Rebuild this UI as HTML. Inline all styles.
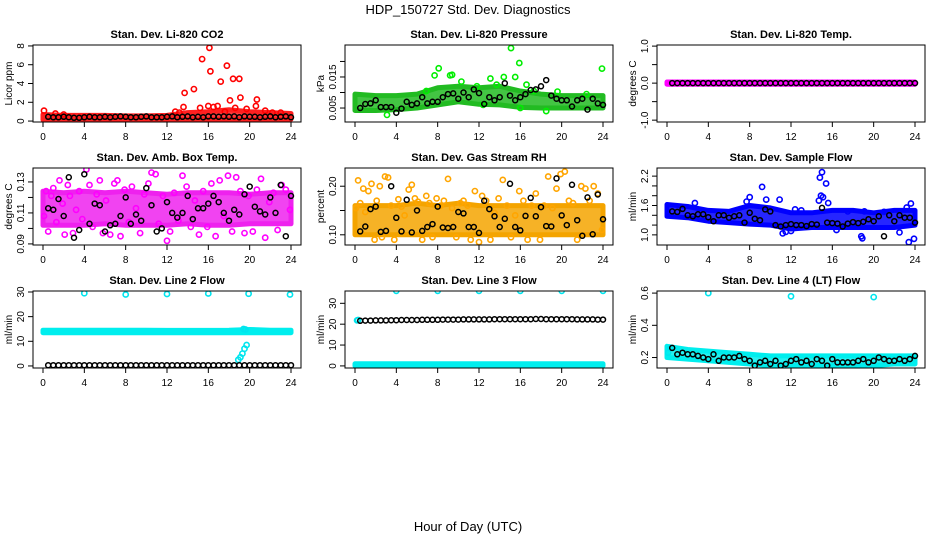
<!DOCTYPE html>
<html><head><meta charset="utf-8"><style>
body{margin:0;background:#fff;}
svg{display:block;font-family:"Liberation Sans",Arial,sans-serif;}
</style></head><body>
<svg id="chart" width="936" height="540" viewBox="0 0 936 540">
<text x="468" y="14" text-anchor="middle" font-size="13">HDP_150727  Std. Dev. Diagnostics</text>
<text x="468" y="531" text-anchor="middle" font-size="13">Hour of Day (UTC)</text>
</svg>
<script>
// ---------- data ----------
const xTicks=[0,4,8,12,16,20,24];
const bandHours=[0,2,4,6,8,10,12,14,16,18,20,22,24];
const scatterHours=[0.1,0.3,0.5,0.8,1.0,1.3,1.6,1.9,2.1,2.4,2.6,2.9,3.2,3.5,3.8,4.2,4.5,4.8,5.2,5.5,5.8,6.1,6.5,6.9,7.2,7.5,7.9,8.3,8.6,9.0,9.4,9.8,10.2,10.5,10.9,11.2,11.6,12.0,12.3,12.7,13.1,13.5,13.9,14.3,14.7,15.1,15.5,15.9,16.3,16.7,17.1,17.5,17.9,18.3,18.7,19.1,19.5,19.9,20.3,20.7,21.1,21.5,21.9,22.3,22.7,23.1,23.5,23.9];

// Panel 1 CO2
const co2BandLo=[0.15,0.15,0.15,0.15,0.15,0.15,0.15,0.2,0.2,0.2,0.2,0.2,0.2];
const co2BandHi=[0.7,0.6,0.6,0.6,0.55,0.55,0.6,0.9,1.0,1.2,1.0,0.9,0.8];
const co2X=[0.1,1.2,2.0,12.8,13.2,13.6,13.7,14.6,15.2,15.4,16.0,16.1,16.2,16.5,16.9,17.2,17.6,17.8,18.1,18.4,18.6,19.0,19.1,19.7,20.6,20.7,21.5,22.2,23.0];
const co2Y=[1.1,0.8,0.7,1.0,0.9,1.5,3.0,3.4,1.4,6.6,1.6,7.8,5.3,1.5,1.6,4.2,1.0,5.9,2.2,4.5,1.4,4.5,2.5,1.3,1.6,2.3,1.1,0.9,0.9];
const co2Black=[0.45,0.4,0.4,0.45,0.4,0.35,0.35,0.4,0.45,0.4,0.4,0.45,0.4,0.45,0.5,0.45,0.4,0.4,0.45,0.5,0.4,0.4,0.4,0.45,0.5,0.4,0.45,0.5,0.4,0.45,0.4,0.5,0.5,0.45,0.5,0.45,0.5,0.4,0.5,0.45,0.45,0.4,0.45,0.5,0.4,0.45,0.5,0.4];

// Panel 2 Pressure
const presBandLo=[0.0042,0.0042,0.0045,0.005,0.006,0.007,0.0062,0.006,0.0052,0.005,0.005,0.005,0.005];
const presBandHi=[0.0095,0.009,0.009,0.0095,0.0115,0.012,0.0115,0.012,0.0105,0.0095,0.009,0.009,0.009];
const presX=[15.1,15.9,23.9,8.1,7.7,9.2,9.4,14.4,15.5,13.1,3.1,12.4,16.0,18.5,10.3,11.8,6.9,13.7,16.6,17.3,19.6,22.4];
const presY=[0.0243,0.0195,0.0177,0.0178,0.0155,0.0155,0.0157,0.015,0.015,0.0145,0.0028,0.006,0.005,0.004,0.0135,0.012,0.0105,0.0125,0.0125,0.0105,0.0103,0.0095];
const presBlack=[0.0050,0.0063,0.0065,0.0075,0.0053,0.0053,0.0053,0.0035,0.0048,0.0070,0.0060,0.0065,0.0085,0.0065,0.0070,0.0070,0.0085,0.0095,0.0097,0.0080,0.0100,0.0085,0.0110,0.0098,0.0063,0.0085,0.0075,0.0085,0.0130,0.0090,0.0075,0.0085,0.0095,0.0108,0.0110,0.0120,0.0140,0.0090,0.0080,0.0075,0.0075,0.0055,0.0075,0.0080,0.0045,0.0080,0.0065,0.0060];

// Panel 3 Temp
const tempBandLo=[-0.03,-0.03,-0.03,-0.03,-0.03,-0.03,-0.03,-0.03,-0.03,-0.03,-0.03,-0.03,-0.03];
const tempBandHi=[0.03,0.03,0.03,0.03,0.03,0.03,0.03,0.03,0.03,0.03,0.03,0.03,0.03];
const tempBlack=[0,0,0,0,0,0,0,0,0,0,0,0,0,0,0,0,0,0,0,0,0,0,0,0,0,0,0,0,0,0,0,0,0,0,0,0,0,0,0,0,0,0,0,0,0,0,0,0];

// Panel 4 Amb box temp
const ambBandLo=[0.102,0.102,0.102,0.103,0.102,0.102,0.102,0.103,0.102,0.102,0.103,0.103,0.103];
const ambBandHi=[0.124,0.123,0.124,0.123,0.124,0.123,0.122,0.123,0.123,0.123,0.122,0.123,0.123];
const ambY=[0.108,0.124,0.098,0.121,0.126,0.104,0.131,0.116,0.096,0.128,0.121,0.097,0.112,0.124,0.106,0.138,0.128,0.101,0.122,0.131,0.097,0.118,0.096,0.129,0.131,0.095,0.125,0.104,0.127,0.113,0.097,0.122,0.129,0.136,0.135,0.103,0.121,0.092,0.098,0.123,0.105,0.134,0.127,0.101,0.118,0.096,0.124,0.101,0.129,0.095,0.131,0.108,0.134,0.098,0.133,0.124,0.097,0.121,0.098,0.125,0.132,0.094,0.117,0.123,0.099,0.128,0.125,0.112];
const ambBlack=[0.113,0.112,0.119,0.108,0.133,0.094,0.099,0.135,0.103,0.116,0.115,0.098,0.102,0.103,0.108,0.120,0.103,0.109,0.105,0.126,0.115,0.098,0.100,0.117,0.110,0.107,0.110,0.121,0.106,0.113,0.113,0.116,0.121,0.117,0.110,0.105,0.112,0.109,0.122,0.127,0.114,0.111,0.109,0.120,0.110,0.128,0.095,0.121];

// Panel 5 RH
const rhBandLo=[0.1,0.1,0.1,0.1,0.1,0.1,0.1,0.1,0.1,0.1,0.1,0.1,0.1];
const rhBandHi=[0.16,0.16,0.16,0.165,0.16,0.165,0.16,0.16,0.16,0.16,0.16,0.16,0.16];
const rhY=[0.155,0.212,0.165,0.195,0.147,0.19,0.205,0.09,0.17,0.2,0.095,0.22,0.218,0.16,0.09,0.173,0.158,0.14,0.193,0.203,0.175,0.168,0.09,0.18,0.165,0.095,0.175,0.16,0.17,0.215,0.155,0.095,0.165,0.17,0.16,0.09,0.19,0.085,0.18,0.17,0.09,0.145,0.175,0.213,0.16,0.095,0.14,0.19,0.17,0.09,0.16,0.185,0.09,0.16,0.22,0.155,0.195,0.225,0.23,0.17,0.165,0.09,0.2,0.195,0.17,0.2,0.185,0.11];
const rhBlack=[0.107,0.117,0.153,0.158,0.106,0.108,0.200,0.135,0.107,0.172,0.105,0.150,0.108,0.116,0.122,0.158,0.115,0.114,0.116,0.147,0.144,0.116,0.116,0.104,0.170,0.153,0.138,0.116,0.133,0.205,0.116,0.109,0.139,0.176,0.138,0.157,0.118,0.117,0.216,0.140,0.120,0.203,0.130,0.098,0.177,0.101,0.183,0.132];

// Panel 6 Sample flow
const flowBandLo=[1.38,1.35,1.28,1.25,1.22,1.2,1.12,1.15,1.15,1.15,1.15,1.15,1.2];
const flowBandHi=[1.62,1.58,1.5,1.48,1.6,1.55,1.45,1.45,1.5,1.5,1.45,1.5,1.5];
const flowX=[15.0,14.8,15.4,9.2,9.6,10.9,12.4,13.0,14.9,15.1,14.7,15.6,8.0,7.7,18.9,18.8,23.4,23.9,11.2,11.5,17.5,19.1,21.0,23.2,23.6,2.7,22.5,16.4,12.0];
const flowY=[2.28,2.17,2.05,1.98,1.72,1.72,1.52,1.5,1.8,1.77,1.7,1.65,1.77,1.68,0.93,0.97,0.85,0.92,1.03,1.06,1.48,1.48,1.47,1.56,1.64,1.65,1.05,1.1,1.08];
const flowBlack=[1.48,1.47,1.53,1.40,1.38,1.42,1.42,1.36,1.28,1.40,1.40,1.35,1.38,1.40,1.25,1.45,1.33,1.30,1.52,1.48,1.20,1.17,1.20,1.22,1.20,1.20,1.18,1.22,1.21,1.55,1.25,1.24,1.23,1.17,1.23,1.26,1.24,1.27,1.32,1.28,1.38,0.97,1.40,1.28,1.40,1.35,1.35,1.25];

// Panel 7 Line 2
const l2BandLo=[13.5,13.5,13.5,13.5,13.5,13.5,13.5,13.5,13.5,13.5,13.5,13.5,13.5];
const l2BandHi=[14.5,14.5,14.5,14.5,14.5,14.5,14.4,14.4,14.4,14.5,14.8,14.5,14.5];
const l2X=[4.0,8.0,12.0,16.0,19.9,23.9,18.9,19.1,19.3,19.5,19.7,19.4,19.6];
const l2Y=[29.5,29.0,29.2,29.4,29.3,29.0,2.5,3.5,5.0,7.0,8.5,15.0,14.8];
const l2Black=[0.3,0.3,0.3,0.3,0.3,0.3,0.3,0.3,0.3,0.3,0.3,0.3,0.3,0.3,0.3,0.3,0.3,0.3,0.3,0.3,0.3,0.3,0.3,0.3,0.3,0.3,0.3,0.3,0.3,0.3,0.3,0.3,0.3,0.3,0.3,0.3,0.3,0.3,0.3,0.3,0.3,0.3,0.3,0.3,0.3,0.3,0.3,0.3];

// Panel 8 Line 3
const l3BandLo=[0,0,0,0,0,0,0,0,0,0,0,0,0];
const l3BandHi=[1.0,1.0,1.0,1.0,1.0,1.0,1.0,1.0,1.0,1.0,1.0,1.0,1.0];
const l3X=[4.0,8.0,12.0,16.0,20.0,24.0,0.2,0.3];
const l3Y=[36,36,36,36,36,36,21.8,22.0];
const l3Black=[21.6,21.7,21.7,21.8,21.8,21.8,21.9,21.9,22.0,22.0,22.0,22.0,22.1,22.1,22.1,22.1,22.2,22.2,22.2,22.2,22.3,22.3,22.3,22.3,22.3,22.3,22.4,22.4,22.4,22.4,22.4,22.4,22.4,22.4,22.5,22.5,22.4,22.4,22.4,22.4,22.4,22.4,22.3,22.3,22.3,22.3,22.2,22.2];

// Panel 9 Line 4
const l4BandLo=[0.2,0.19,0.18,0.17,0.16,0.15,0.15,0.15,0.15,0.15,0.15,0.16,0.16];
const l4BandHi=[0.27,0.25,0.24,0.23,0.22,0.21,0.21,0.21,0.21,0.21,0.21,0.21,0.21];
const l4X=[4.0,12.0,20.0,18.5,19.5,0.1,0.3];
const l4Y=[0.6,0.58,0.575,0.14,0.145,0.23,0.26];
const l4Black=[0.26,0.22,0.23,0.22,0.22,0.21,0.20,0.19,0.22,0.18,0.20,0.20,0.20,0.21,0.19,0.18,0.15,0.17,0.18,0.16,0.18,0.15,0.16,0.18,0.19,0.17,0.18,0.16,0.19,0.18,0.15,0.19,0.17,0.17,0.17,0.17,0.18,0.19,0.17,0.18,0.20,0.19,0.18,0.18,0.19,0.18,0.19,0.21];

// ---------- layout ----------
const NS="http://www.w3.org/2000/svg";
const svg=document.getElementById('chart');
const colX0=[43,355,667], rowTop=[45,168,291], PW=248, PH=77;
const halfHours=[]; for(let i=0;i<48;i++) halfHours.push(0.5*(i+1));

const panels=[
 {name:'co2',title:'Stan. Dev. Li-820 CO2',ylab:'Licor ppm',c:0,r:0,yt:8.1,yb:-0.1,ticks:[0,2,4,6,8],labs:['0','2','4','6','8'],color:'#ff0000',band:'#ff2020',
  bands:[[co2BandLo,co2BandHi]],sx:co2X,sy:co2Y,black:co2Black},
 {name:'pressure',title:'Stan. Dev. Li-820 Pressure',ylab:'kPa',c:1,r:0,yt:0.0253,yb:0.0005,ticks:[0.005,0.010,0.015,0.020],labs:['0.005','','0.015',''],color:'#00ee00',band:'#22bb22',
  bands:[[presBandLo,presBandHi]],sx:presX,sy:presY,black:presBlack},
 {name:'temp',title:'Stan. Dev. Li-820 Temp.',ylab:'degrees C',c:2,r:0,yt:1.03,yb:-1.05,ticks:[-1,-0.5,0,0.5,1],labs:['-1.0','','0.0','','1.0'],color:'#ff00ff',band:'#ff00ff',
  bands:[[tempBandLo,tempBandHi]],sx:[],sy:[],black:tempBlack},
 {name:'amb-box-temp',title:'Stan. Dev. Amb. Box Temp.',ylab:'degrees C',c:0,r:1,yt:0.139,yb:0.0893,ticks:[0.09,0.10,0.11,0.12,0.13],labs:['0.09','','0.11','','0.13'],color:'#ff00ff',band:'#ee22ee',
  bands:[[ambBandLo,ambBandHi]],sx:scatterHours,sy:ambY,black:ambBlack},
 {name:'gas-stream-rh',title:'Stan. Dev. Gas Stream RH',ylab:'percent',c:1,r:1,yt:0.2375,yb:0.079,ticks:[0.10,0.15,0.20],labs:['0.10','','0.20'],color:'#ffa500',band:'#f4a400',
  bands:[[rhBandLo,rhBandHi]],sx:scatterHours,sy:rhY,black:rhBlack},
 {name:'sample-flow',title:'Stan. Dev. Sample Flow',ylab:'ml/min',c:2,r:1,yt:2.366,yb:0.793,ticks:[1.0,1.2,1.4,1.6,1.8,2.0,2.2],labs:['1.0','','','1.6','','','2.2'],color:'#0000ff',band:'#0000ff',
  bands:[[flowBandLo,flowBandHi]],sx:flowX,sy:flowY,black:flowBlack},
 {name:'line2-flow',title:'Stan. Dev. Line 2 Flow',ylab:'ml/min',c:0,r:2,yt:30.4,yb:-0.83,ticks:[0,10,20,30],labs:['0','10','20','30'],color:'#00e5ee',band:'#00eeee',
  bands:[[l2BandLo,l2BandHi]],sx:l2X,sy:l2Y,black:l2Black},
 {name:'line3-flow',title:'Stan. Dev. Line 3 Flow',ylab:'ml/min',c:1,r:2,yt:35.9,yb:-1,ticks:[0,10,20,30],labs:['0','10','20','30'],color:'#00e5ee',band:'#00eeee',
  bands:[[l3BandLo,l3BandHi]],sx:l3X,sy:l3Y,black:l3Black},
 {name:'line4-flow',title:'Stan. Dev. Line 4 (LT) Flow',ylab:'ml/min',c:2,r:2,yt:0.613,yb:0.135,ticks:[0.2,0.4,0.6],labs:['0.2','0.4','0.6'],color:'#00e5ee',band:'#00eeee',
  bands:[[l4BandLo,l4BandHi]],sx:l4X,sy:l4Y,black:l4Black}
];

function mk(tag,attrs,parent){const e=document.createElementNS(NS,tag);for(const k in attrs)e.setAttribute(k,attrs[k]);(parent||svg).appendChild(e);return e;}

panels.forEach(p=>{
  const x0=colX0[p.c], top=rowTop[p.r];
  const xs=h=>x0+h*PW/24;
  const ys=v=>top+(p.yt-v)/(p.yt-p.yb)*PH;
  const g=mk('g',{});
  
  
  const t=mk('text',{x:x0+124,y:top-7,'text-anchor':'middle','font-size':'11','font-weight':'bold'},g);
  t.textContent=p.title;
  
  
  const yl=mk('text',{x:0,y:0,'text-anchor':'middle','font-size':'10',transform:`translate(${x0-31},${top+PH/2}) rotate(-90)`},g);
  yl.textContent=p.ylab;
  
  
  const cid='clip-'+p.name;
  const cp=mk('clipPath',{id:cid},g); mk('rect',{x:x0-10,y:top,width:268,height:PH},cp);
  const pg=mk('g',{'clip-path':`url(#${cid})`},g);
  p.bands.forEach(b=>{
    let d='';
    bandHours.forEach((h,i)=>{d+=(i?'L':'M')+xs(h).toFixed(1)+','+ys(b[1][i]).toFixed(1);});
    for(let i=bandHours.length-1;i>=0;i--) d+='L'+xs(bandHours[i]).toFixed(1)+','+ys(b[0][i]).toFixed(1);
    d+='Z';
    const band=mk('path',{d:d,fill:p.band,stroke:p.band,'stroke-width':'5','stroke-linejoin':'round','fill-opacity':'0.85'},pg);
    
    
  });
  p.sx.forEach((h,i)=>{
    const c=mk('circle',{cx:xs(h).toFixed(1),cy:ys(p.sy[i]).toFixed(1),r:2.6,fill:'none',stroke:p.color,'stroke-width':'1.6'},pg);
    
    
  });
  halfHours.forEach((h,i)=>{
    const c=mk('circle',{cx:xs(h).toFixed(1),cy:ys(p.black[i]).toFixed(1),r:2.5,fill:'none',stroke:'#000','stroke-width':'1.5'},pg);
    
    
  });
  const box=mk('rect',{x:x0-10,y:top,width:268,height:PH,fill:'none',stroke:'#000','stroke-width':'1'},g);
  
  
  xTicks.forEach(h=>{
    mk('line',{x1:xs(h),x2:xs(h),y1:top+PH,y2:top+PH+5,stroke:'#000'},g);
    const tl=mk('text',{x:xs(h),y:top+PH+18,'text-anchor':'middle','font-size':'10'},g);
    tl.textContent=h;
    
    
  });
  p.ticks.forEach((v,i)=>{
    mk('line',{x1:x0-10,x2:x0-15,y1:ys(v),y2:ys(v),stroke:'#000'},g);
    if(p.labs[i]){
      const tl=mk('text',{x:0,y:0,'text-anchor':'middle','font-size':'10',transform:`translate(${x0-19},${ys(v)}) rotate(-90)`},g);
      tl.textContent=p.labs[i];
      
      
    }
  });
});
</script>
</body></html>
